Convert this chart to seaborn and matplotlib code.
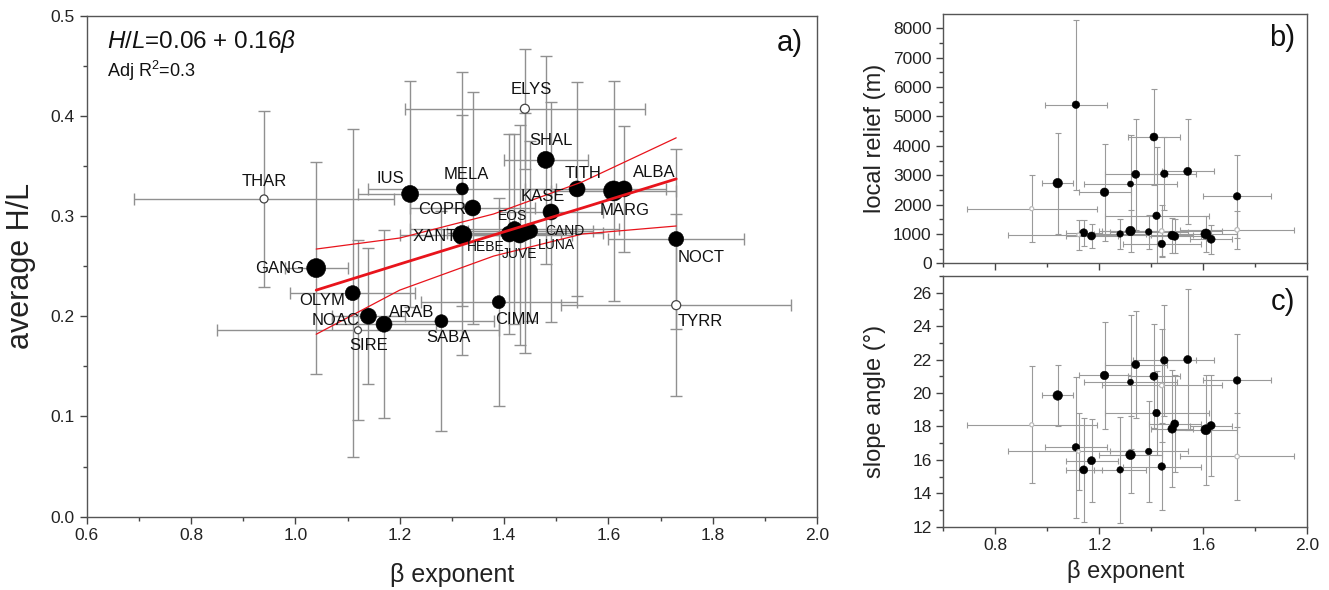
import numpy as np
import pandas as pd
import matplotlib
matplotlib.use("Agg")
import matplotlib.pyplot as plt
import seaborn as sns
from matplotlib.ticker import MultipleLocator

# ---------------- data ----------------
names = ["THAR", "GANG", "OLYM", "SIRE", "NOAC", "ARAB", "IUS", "SABA", "MELA", "XANT",
         "COPR", "CIMM", "HEBE", "EOS", "JUVE", "ELYS", "LUNA", "CAND", "SHAL", "KASE",
         "TITH", "MARG", "ALBA", "NOCT", "TYRR"]
beta = [0.94, 1.04, 1.11, 1.12, 1.14, 1.17, 1.22, 1.28, 1.32, 1.32,
        1.34, 1.39, 1.41, 1.42, 1.43, 1.44, 1.44, 1.45, 1.48, 1.49,
        1.54, 1.61, 1.63, 1.73, 1.73]
beta_err = [0.25, 0.06, 0.12, 0.27, 0.07, 0.10, 0.10, 0.10, 0.18, 0.12,
            0.12, 0.15, 0.10, 0.20, 0.10, 0.23, 0.15, 0.12, 0.08, 0.10,
            0.10, 0.12, 0.08, 0.13, 0.22]
hl = [0.317, 0.248, 0.223, 0.186, 0.200, 0.192, 0.322, 0.195, 0.327, 0.281,
      0.308, 0.214, 0.282, 0.287, 0.281, 0.407, 0.283, 0.285, 0.356, 0.304,
      0.327, 0.325, 0.327, 0.277, 0.211]
hl_err = [0.088, 0.106, 0.164, 0.090, 0.068, 0.094, 0.113, 0.110, 0.117, 0.120,
          0.116, 0.104, 0.100, 0.095, 0.110, 0.060, 0.120, 0.090, 0.104, 0.110,
          0.107, 0.110, 0.063, 0.090, 0.091]
relief = [1860, 2730, 5400, 970, 1040, 930, 2420, 1000, 2700, 1100,
          3030, 1070, 4300, 1620, np.nan, 1100, 660, 3050, 950, 920,
          3130, 1000, 820, 2280, 1140]
relief_err = [1150, 1720, 2890, 500, 440, 420, 1650, 520, 1670, 700,
              1900, 580, 1640, 2350, np.nan, 900, 420, 1250, 600, 580,
              1790, 620, 500, 1420, 640]
slope = [18.1, 19.85, 16.75, 16.5, 15.4, 15.95, 21.05, 15.4, 20.65, 16.3,
         21.7, 16.5, 21.0, 18.8, np.nan, 20.45, 15.6, 21.95, 17.85, 18.15,
         22.0, 17.8, 18.05, 20.75, 16.2]
slope_err = [3.5, 1.85, 4.2, 2.3, 3.1, 2.5, 3.2, 3.15, 4.0, 2.3,
             3.2, 3.0, 3.1, 2.5, np.nan, 3.4, 2.6, 3.3, 3.5, 2.9,
             4.2, 3.3, 3.0, 2.8, 2.6]
open_symbol = ["THAR", "SIRE", "ELYS", "TYRR"]

# regression line and confidence band
fit_beta = [1.04, 1.20, 1.38, 1.55, 1.73]
fit_hl = [0.226, 0.252, 0.281, 0.308, 0.337]
band_upper = [0.267, 0.278, 0.302, 0.334, 0.378]
band_lower = [0.182, 0.226, 0.260, 0.282, 0.290]

# ---------------- style / layout ----------------
marker_px = {"THAR": 8, "GANG": 19, "OLYM": 15, "SIRE": 7, "NOAC": 16, "ARAB": 16, "IUS": 17,
             "SABA": 13, "MELA": 12, "XANT": 19, "COPR": 16, "CIMM": 13, "HEBE": 16, "EOS": 15,
             "JUVE": 16, "ELYS": 9, "LUNA": 15, "CAND": 15, "SHAL": 17, "KASE": 16, "TITH": 16,
             "MARG": 20, "ALBA": 16, "NOCT": 15, "TYRR": 9}
# label offsets in pixels (dx, dy), horizontal alignment, font size
label_layout = {
    "THAR": (0, 17, "center", 12), "GANG": (-12, 0, "right", 12), "OLYM": (-8, -7, "right", 12),
    "NOAC": (-9, -4, "right", 12), "SIRE": (11, -15, "center", 12), "ARAB": (5, 12, "left", 12),
    "SABA": (7, -16, "center", 12), "CIMM": (18, -17, "center", 12), "IUS": (-6, 15, "right", 12),
    "MELA": (4, 14, "center", 12), "COPR": (-7, -2, "right", 12), "XANT": (-5, -1, "right", 12),
    "HEBE": (-5, -13, "right", 10), "EOS": (-2, 13, "center", 10), "JUVE": (0, -19, "center", 10),
    "LUNA": (32, -12, "center", 10), "CAND": (15, 0, "left", 10), "ELYS": (6, 19, "center", 12),
    "SHAL": (5, 19, "center", 12), "TITH": (6, 15, "center", 12), "KASE": (-8, 15, "center", 12),
    "MARG": (11, -20, "center", 12), "ALBA": (30, 16, "center", 12), "NOCT": (1, -18, "left", 12),
    "TYRR": (1, -16, "left", 12),
}

df = pd.DataFrame({"name": names, "beta": beta, "beta_err": beta_err, "hl": hl, "hl_err": hl_err,
                   "relief": relief, "relief_err": relief_err, "slope": slope, "slope_err": slope_err})
df["is_open"] = df["name"].isin(open_symbol)
df["d_px"] = df["name"].map(marker_px)

sns.set_theme(style="ticks")
plt.rcParams["font.family"] = ["Liberation Sans", "DejaVu Sans"]
plt.rcParams["mathtext.fontset"] = "custom"
plt.rcParams["mathtext.rm"] = "Liberation Sans"
plt.rcParams["mathtext.it"] = "Liberation Sans:italic"

fig = plt.figure(figsize=(13.29, 5.90), dpi=100)
ax = fig.add_axes([0.0652, 0.1244, 0.5496, 0.8492])
axb = fig.add_axes([0.7098, 0.5537, 0.2739, 0.4221])
axc = fig.add_axes([0.7098, 0.1073, 0.2739, 0.4249])

ERR_C = "#909090"
PX2PT = 0.72


def style_axes(a, fs=12):
    for sp in a.spines.values():
        sp.set_color("#555555")
        sp.set_linewidth(1.0)
    a.tick_params(which="major", direction="out", length=5, width=1, colors="#444444",
                  labelsize=fs, labelcolor="#222222")
    a.tick_params(which="minor", direction="out", length=3, width=1, colors="#444444")


def draw_points(a, d, ycol, ecol, scale, ecolor_open, lw_err, cap, ecolor=ERR_C):
    d = d.dropna(subset=[ycol])
    a.errorbar(d["beta"], d[ycol], xerr=d["beta_err"], yerr=d[ecol], fmt="none",
               ecolor=ecolor, elinewidth=lw_err, capsize=cap, capthick=lw_err, zorder=1)
    filled = d[~d["is_open"]]
    hollow = d[d["is_open"]]
    sns.scatterplot(data=filled, x="beta", y=ycol, ax=a, color="black", edgecolor="black",
                    linewidth=0.4, s=(filled["d_px"] * scale * PX2PT) ** 2, legend=False, zorder=3)
    sns.scatterplot(data=hollow, x="beta", y=ycol, ax=a, color="white", edgecolor=ecolor_open,
                    linewidth=0.9, s=(hollow["d_px"] * scale * PX2PT) ** 2, legend=False, zorder=3)


# ---------------- panel a ----------------
draw_points(ax, df, "hl", "hl_err", 1.0, "#444444", 1.0, 4)
sns.lineplot(x=fit_beta, y=fit_hl, ax=ax, color="#e8141c", linewidth=2.0, zorder=4)
sns.lineplot(x=fit_beta, y=band_upper, ax=ax, color="#e8141c", linewidth=0.9, zorder=4)
sns.lineplot(x=fit_beta, y=band_lower, ax=ax, color="#e8141c", linewidth=0.9, zorder=4)

for _, r in df.iterrows():
    dx, dy, ha, fs = label_layout[r["name"]]
    ax.annotate(r["name"], (r["beta"], r["hl"]), xytext=(dx * PX2PT, dy * PX2PT),
                textcoords="offset points", ha=ha, va="center", fontsize=fs, color="#111111", zorder=5)

ax.set_xlim(0.6, 2.0)
ax.set_ylim(0.0, 0.5)
ax.xaxis.set_major_locator(MultipleLocator(0.2))
ax.xaxis.set_minor_locator(MultipleLocator(0.1))
ax.yaxis.set_major_locator(MultipleLocator(0.1))
ax.yaxis.set_minor_locator(MultipleLocator(0.05))
ax.xaxis.set_major_formatter(matplotlib.ticker.FormatStrFormatter("%.1f"))
ax.yaxis.set_major_formatter(matplotlib.ticker.FormatStrFormatter("%.1f"))
style_axes(ax, 12.5)
ax.set_xlabel("β exponent", fontsize=18, color="#222222")
ax.set_ylabel("average H/L", fontsize=22, color="#222222")
ax.xaxis.set_label_coords(0.5, -0.117)
ax.yaxis.set_label_coords(-0.090, 0.5)
ax.xaxis.label.set_va("center")
ax.yaxis.label.set_va("center")
ax.text(0.028, 0.948, r"$\it{H/L}$=0.06 + 0.16$\it{\beta}$", transform=ax.transAxes,
        fontsize=17.5, ha="left", va="center", color="#111111")
ax.text(0.028, 0.889, r"Adj R$^2$=0.3", transform=ax.transAxes,
        fontsize=13, ha="left", va="center", color="#111111")
ax.text(0.981, 0.945, "a)", transform=ax.transAxes, fontsize=21, ha="right", va="center",
        color="#111111")

# ---------------- panel b ----------------
draw_points(axb, df, "relief", "relief_err", 0.5, "#bbbbbb", 0.8, 2.2, "#9a9a9a")
axb.set_xlim(0.6, 2.0)
axb.set_ylim(0, 8480)
axb.xaxis.set_major_locator(MultipleLocator(0.4))
axb.xaxis.set_minor_locator(matplotlib.ticker.FixedLocator([0.6, 1.0, 1.4, 1.8]))
axb.yaxis.set_major_locator(MultipleLocator(1000))
axb.yaxis.set_minor_locator(MultipleLocator(500))
style_axes(axb, 12.5)
axb.tick_params(axis="x", which="both", labelbottom=False)
axb.set_xlabel("")
axb.set_ylabel("local relief (m)", fontsize=17, color="#222222")
axb.yaxis.set_label_coords(-0.188, 0.5)
axb.yaxis.label.set_va("center")
axb.text(0.966, 0.905, "b)", transform=axb.transAxes, fontsize=21, ha="right", va="center",
         color="#111111")

# ---------------- panel c ----------------
draw_points(axc, df, "slope", "slope_err", 0.5, "#bbbbbb", 0.8, 2.2, "#9a9a9a")
axc.set_xlim(0.6, 2.0)
axc.set_ylim(12, 27)
axc.xaxis.set_major_locator(matplotlib.ticker.FixedLocator([0.8, 1.2, 1.6, 2.0]))
axc.xaxis.set_minor_locator(matplotlib.ticker.FixedLocator([0.6, 1.0, 1.4, 1.8]))
axc.xaxis.set_major_formatter(matplotlib.ticker.FormatStrFormatter("%.1f"))
axc.yaxis.set_major_locator(MultipleLocator(2))
axc.yaxis.set_minor_locator(MultipleLocator(1))
style_axes(axc, 12.5)
axc.set_xlabel("β exponent", fontsize=17, color="#222222")
axc.set_ylabel("slope angle (°)", fontsize=17, color="#222222")
axc.xaxis.set_label_coords(0.5, -0.18)
axc.yaxis.set_label_coords(-0.188, 0.5)
axc.xaxis.label.set_va("center")
axc.yaxis.label.set_va("center")
axc.text(0.966, 0.897, "c)", transform=axc.transAxes, fontsize=21, ha="right", va="center",
         color="#111111")

fig.savefig("out.png", dpi=100)
